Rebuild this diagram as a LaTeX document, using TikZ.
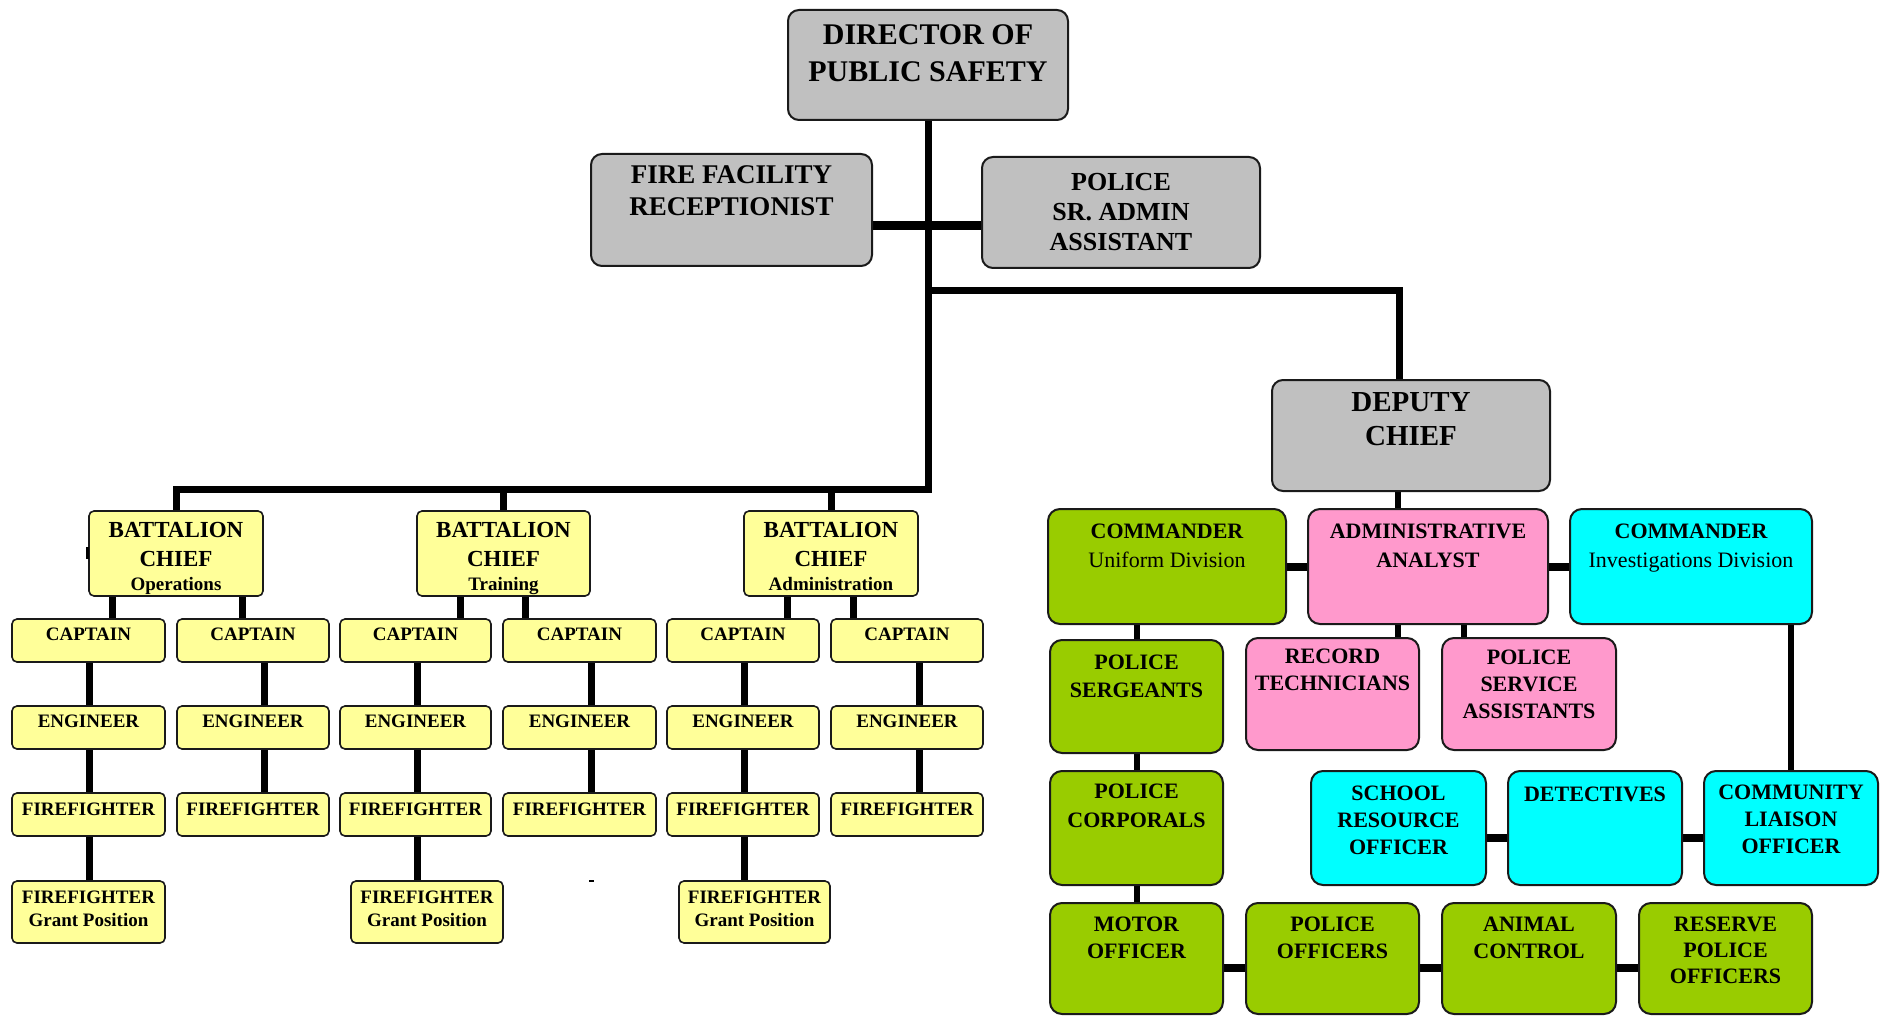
\documentclass[tikz,border=0pt]{standalone}
\usepackage{fontspec}
\setmainfont{Liberation Serif}
\pgfdeclarelayer{bg}
\pgfsetlayers{bg,main}
\definecolor{greyf}{HTML}{C0C0C0}
\definecolor{yel}{HTML}{FFFF99}
\definecolor{grn}{HTML}{99CC00}
\definecolor{pnk}{HTML}{FF99CC}
\definecolor{cyn}{HTML}{00FFFF}
\definecolor{edgec}{HTML}{1A1A1A}
\newcommand{\bx}[8]{\node[#6] (#1) at ({(#2+#3)/2},{(#4+#5)/2}) {\parbox[c][\dimexpr #5pt-#4pt\relax][t]{\dimexpr #3pt-#2pt\relax}{\centering\vspace*{#7pt}#8\par}};}
\tikzset{
 box/.style={draw=edgec, line width=2pt, inner sep=0pt, outer sep=0pt, font=\bfseries},
 greybox/.style={box, fill=greyf, rounded corners=11pt},
 ybox/.style={box, fill=yel, rounded corners=5pt, line width=1.6pt},
 gbox/.style={box, fill=grn, rounded corners=12pt},
 pbox/.style={box, fill=pnk, rounded corners=12pt},
 cbox/.style={box, fill=cyn, rounded corners=12pt},
 conn/.style={line width=7pt, draw=black},
 vconn/.style={line width=6pt, draw=black},
 hconn/.style={line width=8pt, draw=black},
}
\newcommand{\yf}{\fontsize{19}{23}\selectfont}
\newcommand{\pf}{\fontsize{22}{28}\selectfont}
\begin{document}
\begin{tikzpicture}[x=1pt,y=-1pt]
\useasboundingbox (0,0) rectangle (1884,1016);
\begin{pgfonlayer}{bg}
\fill[white] (0,0) rectangle (1884,1016);
\end{pgfonlayer}
% top grey boxes
\bx{dir}{788}{1068}{10}{120}{greybox}{15}{\fontsize{30}{37}\selectfont DIRECTOR OF\\PUBLIC SAFETY}
\bx{frec}{591}{872}{154}{266}{greybox}{12}{\fontsize{27}{32}\selectfont FIRE FACILITY\\RECEPTIONIST}
\bx{padm}{982}{1260}{157}{268}{greybox}{16}{\fontsize{26}{30}\selectfont POLICE\\SR. ADMIN\\ASSISTANT}
\bx{dep}{1272}{1550}{380}{491}{greybox}{13}{\fontsize{29}{34}\selectfont DEPUTY\\CHIEF}
% battalion chiefs
\bx{bc1}{89}{263}{511}{596}{ybox}{11}{\fontsize{23}{29}\selectfont BATTALION\\CHIEF\\[-5pt]{\yf Operations}}
\bx{bc2}{417}{590}{511}{596}{ybox}{11}{\fontsize{23}{29}\selectfont BATTALION\\CHIEF\\[-5pt]{\yf Training}}
\bx{bc3}{744}{918}{511}{596}{ybox}{11}{\fontsize{23}{29}\selectfont BATTALION\\CHIEF\\[-5pt]{\yf Administration}}
% captains
\bx{ca1}{12}{165}{619}{662}{ybox}{9}{\yf CAPTAIN}
\bx{ca2}{177}{329}{619}{662}{ybox}{9}{\yf CAPTAIN}
\bx{ca3}{340}{491}{619}{662}{ybox}{9}{\yf CAPTAIN}
\bx{ca4}{503}{656}{619}{662}{ybox}{9}{\yf CAPTAIN}
\bx{ca5}{667}{819}{619}{662}{ybox}{9}{\yf CAPTAIN}
\bx{ca6}{831}{983}{619}{662}{ybox}{9}{\yf CAPTAIN}
% engineers
\bx{en1}{12}{165}{706}{749}{ybox}{9}{\yf ENGINEER}
\bx{en2}{177}{329}{706}{749}{ybox}{9}{\yf ENGINEER}
\bx{en3}{340}{491}{706}{749}{ybox}{9}{\yf ENGINEER}
\bx{en4}{503}{656}{706}{749}{ybox}{9}{\yf ENGINEER}
\bx{en5}{667}{819}{706}{749}{ybox}{9}{\yf ENGINEER}
\bx{en6}{831}{983}{706}{749}{ybox}{9}{\yf ENGINEER}
% firefighters
\bx{ff1}{12}{165}{793}{836}{ybox}{10}{\yf FIREFIGHTER}
\bx{ff2}{177}{329}{793}{836}{ybox}{10}{\yf FIREFIGHTER}
\bx{ff3}{340}{491}{793}{836}{ybox}{10}{\yf FIREFIGHTER}
\bx{ff4}{503}{656}{793}{836}{ybox}{10}{\yf FIREFIGHTER}
\bx{ff5}{667}{819}{793}{836}{ybox}{10}{\yf FIREFIGHTER}
\bx{ff6}{831}{983}{793}{836}{ybox}{10}{\yf FIREFIGHTER}
% grant positions
\bx{gr1}{12}{165}{881}{943}{ybox}{10}{\yf FIREFIGHTER\\Grant Position}
\bx{gr3}{351}{503}{881}{943}{ybox}{10}{\yf FIREFIGHTER\\Grant Position}
\bx{gr5}{679}{830}{881}{943}{ybox}{10}{\yf FIREFIGHTER\\Grant Position}
% police side
\bx{cu}{1048}{1286}{509}{624}{gbox}{15}{\fontsize{22}{29}\selectfont COMMANDER\\{\mdseries Uniform Division}}
\bx{aa}{1308}{1548}{509}{624}{pbox}{15}{\fontsize{22}{29}\selectfont ADMINISTRATIVE\\ANALYST}
\bx{ci}{1570}{1812}{509}{624}{cbox}{15}{\fontsize{22}{29}\selectfont COMMANDER\\{\mdseries Investigations Division}}
\bx{ser}{1050}{1223}{640}{753}{gbox}{15}{\pf POLICE\\SERGEANTS}
\bx{rt}{1246}{1419}{638}{750}{pbox}{11}{\fontsize{22}{27}\selectfont RECORD\\TECHNICIANS}
\bx{psa}{1442}{1616}{638}{750}{pbox}{12}{\fontsize{22}{27}\selectfont POLICE\\SERVICE\\ASSISTANTS}
\bx{pc}{1050}{1223}{771}{885}{gbox}{13}{\fontsize{22}{29}\selectfont POLICE\\CORPORALS}
\bx{sro}{1311}{1486}{771}{885}{cbox}{15}{\fontsize{22}{27}\selectfont SCHOOL\\RESOURCE\\OFFICER}
\bx{det}{1508}{1682}{771}{885}{cbox}{16}{\pf DETECTIVES}
\bx{clo}{1704}{1878}{771}{885}{cbox}{14}{\fontsize{22}{27}\selectfont COMMUNITY\\LIAISON\\OFFICER}
\bx{mo}{1050}{1223}{903}{1014}{gbox}{14}{\fontsize{22}{27}\selectfont MOTOR\\OFFICER}
\bx{po}{1246}{1419}{903}{1014}{gbox}{14}{\fontsize{22}{27}\selectfont POLICE\\OFFICERS}
\bx{ac}{1442}{1616}{903}{1014}{gbox}{14}{\fontsize{22}{27}\selectfont ANIMAL\\CONTROL}
\bx{rpo}{1639}{1812}{903}{1014}{gbox}{14}{\fontsize{22}{26}\selectfont RESERVE\\POLICE\\OFFICERS}
% small stray mark on the left edge of the first battalion chief box
\draw[line width=3pt] (bc1.west |- 0,547) ++(-2,0) coordinate (tk) -- (tk |- 0,559);
\begin{pgfonlayer}{bg}
% trunk and bus
\draw[conn] (dir.south) -- (dir.south |- 0,489) -| (bc1.north);
\draw[conn] (bc2.north |- 0,489) -- (bc2.north);
\draw[conn] (bc3.north |- 0,489) -- (bc3.north);
\draw[conn, line width=9pt] (frec.east |- 0,226) -- (padm.west |- 0,226);
\draw[conn] (dir.south |- 0,291) -| (dep.north -| 1399,0);
% battalion chiefs to captains
\draw[conn] (bc1.south -| 112,0) -- (ca1.north -| 112,0);
\draw[conn] (bc1.south -| 242,0) -- (ca2.north -| 242,0);
\draw[conn] (bc2.south -| 460,0) -- (ca3.north -| 460,0);
\draw[conn] (bc2.south -| 525,0) -- (ca4.north -| 525,0);
\draw[conn] (bc3.south -| 787,0) -- (ca5.north -| 787,0);
\draw[conn] (bc3.south -| 853,0) -- (ca6.north -| 853,0);
% columns
\draw[conn] (ca1.south -| 89,0) -- (en1.north -| 89,0);
\draw[conn] (ca2.south -| 264,0) -- (en2.north -| 264,0);
\draw[conn] (ca3.south -| 417,0) -- (en3.north -| 417,0);
\draw[conn] (ca4.south -| 591,0) -- (en4.north -| 591,0);
\draw[conn] (ca5.south -| 744,0) -- (en5.north -| 744,0);
\draw[conn] (ca6.south -| 919,0) -- (en6.north -| 919,0);
\draw[conn] (en1.south -| 89,0) -- (ff1.north -| 89,0);
\draw[conn] (en2.south -| 264,0) -- (ff2.north -| 264,0);
\draw[conn] (en3.south -| 417,0) -- (ff3.north -| 417,0);
\draw[conn] (en4.south -| 591,0) -- (ff4.north -| 591,0);
\draw[conn] (en5.south -| 744,0) -- (ff5.north -| 744,0);
\draw[conn] (en6.south -| 919,0) -- (ff6.north -| 919,0);
\draw[conn] (ff1.south -| 89,0) -- (gr1.north -| 89,0);
\draw[conn] (ff3.south -| 417,0) -- (gr3.north -| 417,0);
\draw[conn] (ff5.south -| 744,0) -- (gr5.north -| 744,0);
% small stray dash
\draw[line width=2pt] (589,881) -- (594,881);
% police side
\draw[vconn] (dep.south -| 1398,0) -- (aa.north -| 1398,0);
\draw[hconn] (cu.east) -- (aa.west);
\draw[hconn] (aa.east) -- (ci.west);
\draw[vconn] (cu.south -| 1137,0) -- (ser.north -| 1137,0);
\draw[vconn] (ser.south -| 1137,0) -- (pc.north -| 1137,0);
\draw[vconn] (pc.south -| 1137,0) -- (mo.north -| 1137,0);
\draw[vconn] (aa.south -| 1398,0) -- (rt.north -| 1398,0);
\draw[vconn] (aa.south -| 1464,0) -- (psa.north -| 1464,0);
\draw[vconn] (ci.south -| 1791,0) -- (clo.north -| 1791,0);
\draw[hconn] (sro.east |- 0,838) -- (det.west |- 0,838);
\draw[hconn] (det.east |- 0,838) -- (clo.west |- 0,838);
\draw[hconn] (mo.east |- 0,968) -- (po.west |- 0,968);
\draw[hconn] (po.east |- 0,968) -- (ac.west |- 0,968);
\draw[hconn] (ac.east |- 0,968) -- (rpo.west |- 0,968);
\end{pgfonlayer}
\end{tikzpicture}
\end{document}
